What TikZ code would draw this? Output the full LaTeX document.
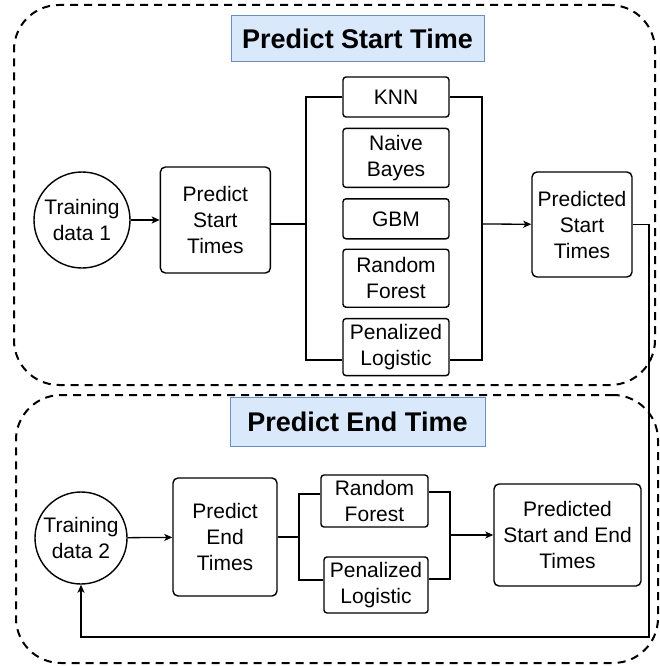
\documentclass[tikz,border=0pt]{standalone}
\usepackage{fontspec}
\setmainfont{Liberation Sans}
\usetikzlibrary{shapes.geometric, arrows.meta, positioning}
\definecolor{headfill}{HTML}{DAE8FC}
\definecolor{headline}{HTML}{6C8EBF}
\tikzstyle{datain} = [circle, minimum size=96pt, inner sep=0pt, align=center, draw=black, line width=1.4pt]
\tikzstyle{stepbox} = [rectangle, rounded corners=5pt, align=center, draw=black, line width=1.4pt]
\tikzstyle{model} = [rectangle, rounded corners=3pt, minimum width=106pt, minimum height=40pt, inner sep=2pt, align=center, draw=black, line width=1.4pt]
\tikzstyle{heading} = [rectangle, fill=headfill, draw=headline, line width=1pt, font=\fontsize{27}{32}\selectfont\bfseries]
\tikzstyle{panel} = [rectangle, rounded corners=45pt, dash pattern=on 8pt off 6pt, line width=2pt, draw=black]
\tikzstyle{wire} = [line width=1.3pt]
\tikzstyle{arrow} = [line width=1.3pt,->,>={Stealth[length=8pt,width=7pt,inset=2pt]}]

\begin{document}
\begin{tikzpicture}[x=1pt, y=-1pt, font=\fontsize{21}{26}\selectfont]
\useasboundingbox (0,0) rectangle (660,666);

\node (startpanel) [panel, minimum width=641pt, minimum height=380pt] at (334.5,195) {};
\node (endpanel) [panel, minimum width=642pt, minimum height=268pt] at (337,529) {};

\node (starthead) [heading, minimum width=253pt, minimum height=46pt] at (357.5,39) {Predict Start Time};
\node (endhead) [heading, minimum width=255pt, minimum height=49pt] at (357.5,421.5) {Predict End Time};

% start time
\node (train1) [datain] at (82,220) {Training\\data 1};
\node (predstart) [stepbox, minimum width=110pt, minimum height=106pt, right=29pt of train1] {Predict\\Start\\Times};

\node (knn) [model] at (396,97) {KNN};
\node (bayes) [model, minimum height=59pt, below=10pt of knn] {Naive\\Bayes};
\node (gbm) [model, below=10pt of bayes] {GBM};
\node (forest) [model, minimum height=58pt, below=9pt of gbm] {Random\\Forest};
\node (logit) [model, minimum height=57pt, below=10pt of forest] {Penalized\\Logistic};

\node (startout) [stepbox, minimum width=100pt, minimum height=105pt] at (582,224.5) {Predicted\\Start\\Times};

% end time
\node (train2) [datain, minimum size=92pt] at (81,538) {Training\\data 2};
\node (predend) [stepbox, minimum width=104pt, minimum height=118pt] at (225,537) {Predict\\End\\Times};

\node (forest2) [model, minimum width=107pt, minimum height=52pt] at (374.5,501) {Random\\Forest};
\node (logit2) [model, minimum width=104pt, minimum height=56pt] at (376,585) {Penalized\\Logistic};

\node (endout) [stepbox, minimum width=147pt, minimum height=102pt] at (567.5,535) {Predicted\\Start and End\\Times};

\coordinate (splitS) at (306,224);
\coordinate (joinS) at (482,224);
\coordinate (splitE) at (299,537);
\coordinate (joinE) at (450,535);
\coordinate (loopback) at (649,637);

\draw [arrow] (train1) -- (predstart);
\draw [wire] ([yshift=-4pt]predstart.east) -- (splitS);
\draw [wire] (knn.west) -| (splitS) |- ([yshift=-13pt]logit.west);
\draw [wire] (knn.east) -| (joinS) |- ([yshift=-13pt]logit.east);
\draw [arrow] (joinS) -- (startout);

\draw [arrow] (startout.east) -| (loopback) -| (train2.south);

\draw [arrow] (train2) -- (predend);
\draw [wire] (predend) -- (splitE);
\draw [wire] ([yshift=7pt]forest2.west) -| (splitE) |- ([yshift=5pt]logit2.west);
\draw [wire] ([yshift=9pt]forest2.east) -| (joinE) |- ([yshift=6pt]logit2.east);
\draw [arrow] (joinE) -- (endout);

\end{tikzpicture}
\end{document}
